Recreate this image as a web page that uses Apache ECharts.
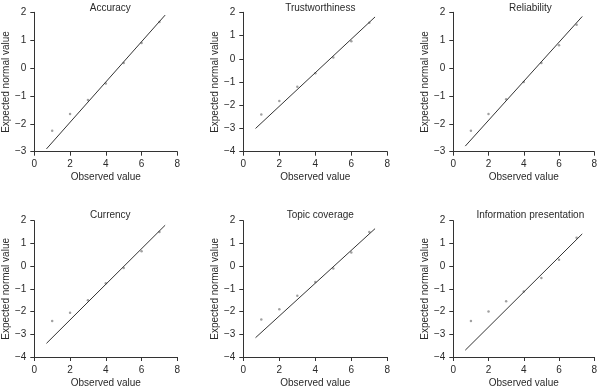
<!DOCTYPE html>
<html><head><meta charset="utf-8">
<script src="https://cdn.jsdelivr.net/npm/echarts@6/dist/echarts.min.js"></script>
<style>html,body{margin:0;padding:0;background:#fff}#c{width:600px;height:389px}</style>
</head><body><div id="c"></div>
<script>
const titles = ["Accuracy","Trustworthiness","Reliability","Currency","Topic coverage","Information presentation"];
const observed = [1,2,3,4,5,6,7];
const accuracy = [-2.25,-1.65,-1.15,-0.55,0.18,0.9,1.65];
const trustworthiness = [-2.4,-1.82,-1.2,-0.62,0.05,0.75,1.55];
const reliability = [-2.25,-1.65,-1.12,-0.5,0.18,0.82,1.55];
const currency = [-2.42,-2.05,-1.5,-0.75,-0.08,0.65,1.5];
const topicCoverage = [-2.35,-1.9,-1.3,-0.7,-0.1,0.6,1.5];
const infoPresentation = [-2.42,-2.0,-1.55,-1.12,-0.52,0.28,1.25];
const lineX = [0.68,7.32];
const lineAccuracy = [-2.9,1.9];
const lineTrust = [-3.0,1.8];
const lineReliability = [-2.8,1.85];
const lineCurrency = [-3.4,1.8];
const lineTopic = [-3.15,1.65];
const lineInfo = [-3.7,1.42];
const yMins = [-3,-4,-3,-4,-4,-4];
const yMax = 2;
const xMin = 0, xMax = 8;

const series = [accuracy,trustworthiness,reliability,currency,topicCoverage,infoPresentation];
const lines = [lineAccuracy,lineTrust,lineReliability,lineCurrency,lineTopic,lineInfo];

const lefts = [33.3,243.3,453.3];
const width = 144;
const tops = [12.3,220.7];
const heights = [139.4,138.6];
const fontFam = "'Liberation Sans', Arial, sans-serif";
const txt = '#2a2a2a';
const fmt = v => (v < 0 ? '\u2212' + Math.abs(v) : String(v));

const option = {animation:false, title:[], grid:[], xAxis:[], yAxis:[], series:[]};
for (let i=0;i<6;i++){
  const r = Math.floor(i/3), c = i%3;
  option.grid.push({left:lefts[c], top:tops[r], width:width, height:heights[r], containLabel:false});
  option.title.push({text:titles[i], left:lefts[c]+width/2, top: r===0 ? -2 : 205, textAlign:'center',
    textStyle:{fontFamily:fontFam,fontSize:10,fontWeight:'normal',color:txt}});
  const axisCommon = {
    axisLine:{show:true,onZero:false,lineStyle:{color:'#333',width:1}},
    axisTick:{show:true,inside:false,length:4,lineStyle:{color:'#333'}},
    splitLine:{show:false},
    axisLabel:{fontFamily:fontFam,fontSize:10,color:txt,formatter:fmt},
    nameLocation:'middle',
    nameTextStyle:{fontFamily:fontFam,fontSize:10,color:txt}
  };
  option.xAxis.push(Object.assign({gridIndex:i,type:'value',min:xMin,max:xMax,interval:2,name:'Observed value',nameGap:21}, axisCommon));
  option.yAxis.push(Object.assign({gridIndex:i,type:'value',min:yMins[i],max:yMax,interval:1,name:'Expected normal value',nameGap:23}, axisCommon));
  option.series.push({type:'line',xAxisIndex:i,yAxisIndex:i,data:lineX.map((x,k)=>[x,lines[i][k]]),
    showSymbol:false,symbol:'none',lineStyle:{color:'#333',width:1},silent:true});
  option.series.push({type:'scatter',xAxisIndex:i,yAxisIndex:i,data:observed.map((x,k)=>[x,series[i][k]]),
    symbol:'circle',symbolSize:2.5,itemStyle:{color:'#888'},silent:true});
}
const chart = echarts.init(document.getElementById('c'),null,{renderer:'canvas'});
chart.setOption(option);
</script></body></html>
